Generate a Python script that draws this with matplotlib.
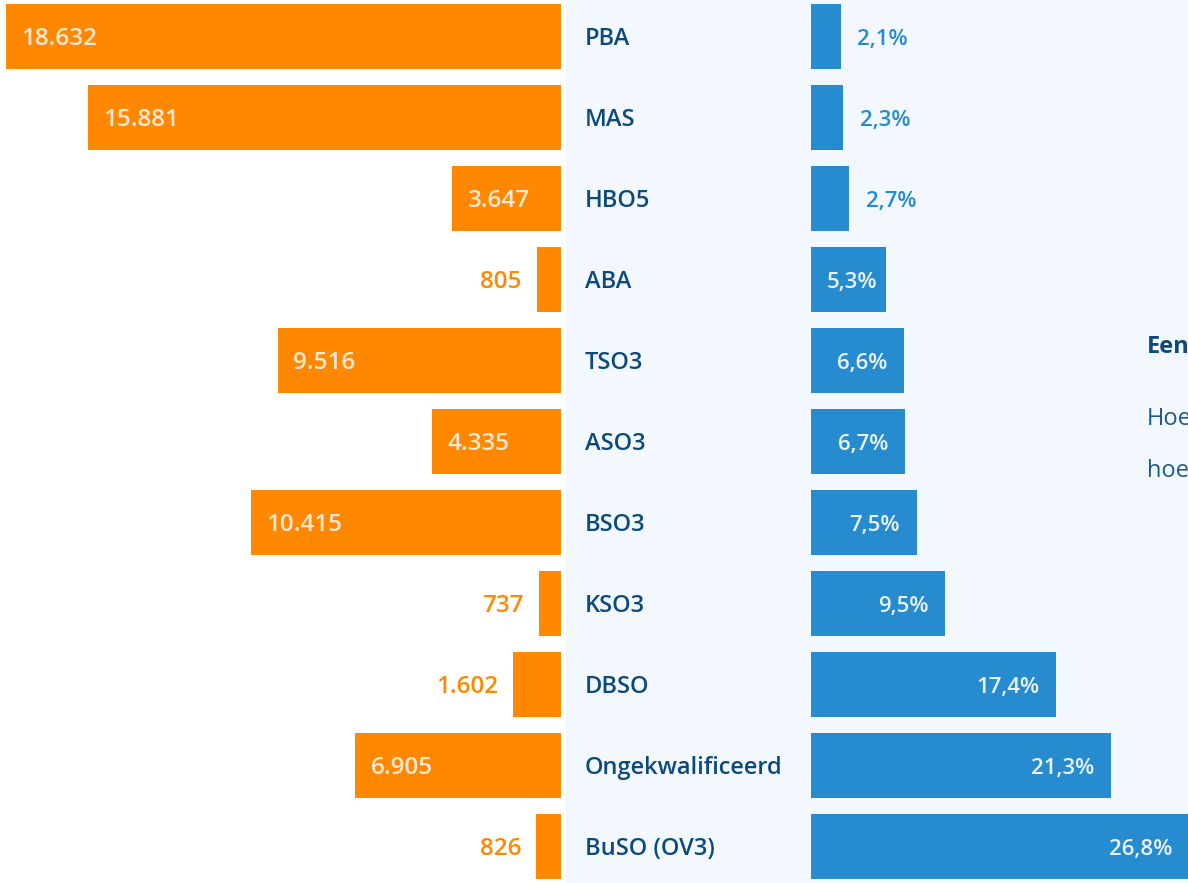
import matplotlib
matplotlib.use("Agg")
import matplotlib.pyplot as plt
import numpy as np

categories = ["PBA", "MAS", "HBO5", "ABA", "TSO3", "ASO3", "BSO3", "KSO3",
              "DBSO", "Ongekwalificeerd", "BuSO (OV3)"]
counts = [18632, 15881, 3647, 805, 9516, 4335, 10415, 737, 1602, 6905, 826]
count_labels = ["18.632", "15.881", "3.647", "805", "9.516", "4.335", "10.415",
                "737", "1.602", "6.905", "826"]
shares = [2.1, 2.3, 2.7, 5.3, 6.6, 6.7, 7.5, 9.5, 17.4, 21.3, 26.8]
share_labels = ["2,1%", "2,3%", "2,7%", "5,3%", "6,6%", "6,7%", "7,5%",
                "9,5%", "17,4%", "21,3%", "26,8%"]

ORANGE = "#ff8800"
BLUE = "#268ccf"
PANEL = "#f2f8fd"
DARK = "#0c4a7b"
FONT = ["Open Sans", "DejaVu Sans"]

W, H = 1188, 883
fig = plt.figure(figsize=(W / 100, H / 100), dpi=100)
fig.patch.set_facecolor("white")

y = np.arange(len(categories))
ylim = (10.45, -0.45)
bar_h = 0.80
DY = -2  # small downward nudge of all labels, in points

# left panel: counts, bars growing to the left
ax_l = fig.add_axes([0, 0, 566 / W, 1])
ax_l.barh(y, counts, height=bar_h, color=ORANGE)
ax_l.set_xlim(18832, -168)
ax_l.set_ylim(*ylim)
ax_l.axis("off")
for i, (v, lab) in enumerate(zip(counts, count_labels)):
    inside = v > 3000
    ax_l.annotate(lab, (v, i), xytext=(11 if inside else -11, DY),
                  textcoords="offset points",
                  ha="left" if inside else "right", va="center",
                  fontsize=17.5, color="#fde8d6" if inside else ORANGE,
                  fontweight="semibold", family=FONT, annotation_clip=False)

# right panel: category names and shares
ax_r = fig.add_axes([566 / W, 0, 1 - 566 / W, 1])
ax_r.set_facecolor(PANEL)
ax_r.barh(y, shares, height=bar_h, color=BLUE)
scale = 14.1
ax_r.set_xlim(-(811 - 566) / scale, (W - 811) / scale)
ax_r.set_ylim(*ylim)
for s in ax_r.spines.values():
    s.set_visible(False)
ax_r.set_xticks([])
ax_r.set_yticks([])

label_x = (585 - 811) / scale
for i, cat in enumerate(categories):
    ax_r.annotate(cat, (label_x, i), xytext=(0, DY), textcoords="offset points",
                  ha="left", va="center", fontsize=17, color=DARK,
                  fontweight="semibold", family=FONT, annotation_clip=False)

for i, (v, lab) in enumerate(zip(shares, share_labels)):
    if v < 4:
        xy, dx, ha, col = (v, i), 12, "left", BLUE
    elif v < 6:
        xy, dx, ha, col = (0, i), 11, "left", "#eaf3fb"
    else:
        xy, dx, ha, col = (v, i), -12, "right", "#eaf3fb"
    ax_r.annotate(lab, xy, xytext=(dx, DY), textcoords="offset points",
                  ha=ha, va="center", fontsize=16, color=col,
                  fontweight="semibold", family=FONT, annotation_clip=False)

# partially visible side text (cut by the right edge, as in the source)
fig.text(1147 / W, 1 - 347 / H, "Een", ha="left", va="center", fontsize=17,
         color=DARK, fontweight="bold", family=FONT)
fig.text(1147 / W, 1 - 419 / H, "Hoe", ha="left", va="center", fontsize=17,
         color="#1d5a8c", family=FONT)
fig.text(1147 / W, 1 - 471 / H, "hoe", ha="left", va="center", fontsize=17,
         color="#1d5a8c", family=FONT)

fig.savefig("out.png", dpi=100)
